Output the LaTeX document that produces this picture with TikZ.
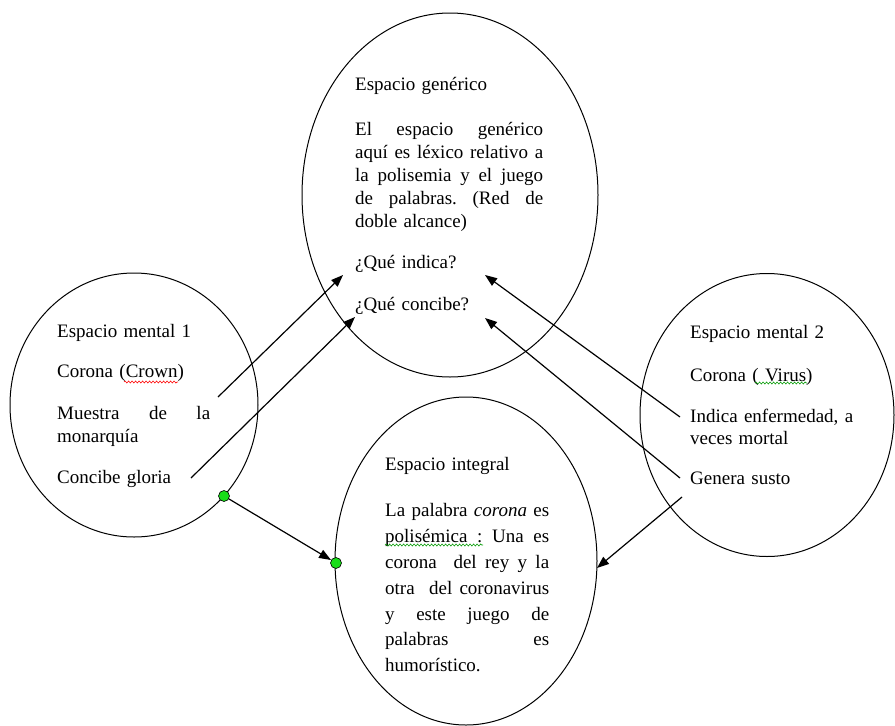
\documentclass[tikz,border=0pt]{standalone}
\usepackage{fontspec}
\setmainfont{Liberation Serif}
\usetikzlibrary{shapes.geometric,arrows.meta,decorations.pathmorphing}
\newcommand{\jl}[2]{\leavevmode{\spaceskip=0.25em plus 1fil\xspaceskip=0.25em plus 1fil\hbox to #1{#2}}}
\tikzset{
  space/.style={ellipse, draw, line width=1pt, inner sep=0pt, outer sep=0pt},
  txt/.style={anchor=base west, inner sep=0pt, align=left, font=\fontsize{19}{23}\selectfont},
  link/.style={line width=1.2pt, -{Triangle[length=12pt,width=9pt]}},
  dot/.style={circle, draw=black, fill=green!85!black!90, line width=0.6pt, minimum size=11pt, inner sep=0pt},
  squig/.style={decorate, decoration={snake, segment length=3.5pt, amplitude=1pt}, line width=0.6pt}
}
\begin{document}
\begin{tikzpicture}[x=1pt,y=-1pt]
\useasboundingbox (0,0) rectangle (895,726);
% ellipses
\node[space, minimum width=296pt, minimum height=364pt] (gen) at (450,195) {};
\node[space, minimum width=248pt, minimum height=264pt] (m1) at (134,405) {};
\node[space, minimum width=254pt, minimum height=283pt] (m2) at (767,415) {};
\node[space, minimum width=262pt, minimum height=328pt] (int) at (466,561) {};
% texts
\node[txt, text width=188pt] (tgen) at (355,90) {Espacio genérico\\[22pt]
\jl{188pt}{El espacio genérico}\\
\jl{188pt}{aquí es léxico relativo a}\\
\jl{188pt}{la polisemia y el juego}\\
\jl{188pt}{de palabras. (Red de}\\
doble alcance)\\[18pt]
¿Qué indica?\\[19pt]
¿Qué concibe?};
\node[txt, text width=153pt] (tm1) at (57,337) {Espacio mental 1\\[17pt]
Corona (Crown)\\[19pt]
\jl{153pt}{Muestra de la}\\
monarquía\\[18pt]
Concibe gloria};
\node[txt, text width=163pt, font=\fontsize{19}{22}\selectfont] (tm2) at (690,338) {Espacio mental 2\\[21pt]
Corona ( Virus)\\[19pt]
Indica enfermedad, a\\
veces mortal\\[18pt]
Genera susto};
\node[txt, text width=164pt, font=\fontsize{19}{25.8}\selectfont] (tint) at (385,470) {Espacio integral\\[21pt]
\jl{164pt}{La palabra \textit{corona} es}\\
\jl{164pt}{polisémica : Una es}\\
\jl{164pt}{corona \ del rey y la}\\
\jl{164pt}{otra \ del coronavirus}\\
\jl{164pt}{y este juego de}\\
\jl{164pt}{palabras es}\\
humorístico.};
% spell-check underlines
\coordinate (u1a) at (124,382); \coordinate (u1b) at (178,382);
\coordinate (u2a) at (755,383); \coordinate (u2b) at (807,383);
\coordinate (u3a) at (385,545); \coordinate (u3b) at (483,545);
\draw[squig, red] (u1a) -- (u1b);
\draw[squig, green!60!black] (u2a) -- (u2b);
\draw[squig, green!60!black] (u3a) -- (u3b);
% connector end points
\coordinate (s1) at (218,397); \coordinate (e1) at (343,275);
\coordinate (s2) at (191,478); \coordinate (e2) at (355,317);
\coordinate (s3) at (680,417); \coordinate (e3) at (485,275);
\coordinate (s4) at (680,478); \coordinate (e4) at (485,318);
\coordinate (s5) at (682,497); \coordinate (e5) at (597,568);
\draw[link] (s1) -- (e1);
\draw[link] (s2) -- (e2);
\draw[link] (s3) -- (e3);
\draw[link] (s4) -- (e4);
\draw[link] (s5) -- (e5);
\node[dot] (d1) at (224,496) {};
\node[dot] (d2) at (336,563) {};
\draw[link] (d1) -- (d2);
\end{tikzpicture}
\end{document}
